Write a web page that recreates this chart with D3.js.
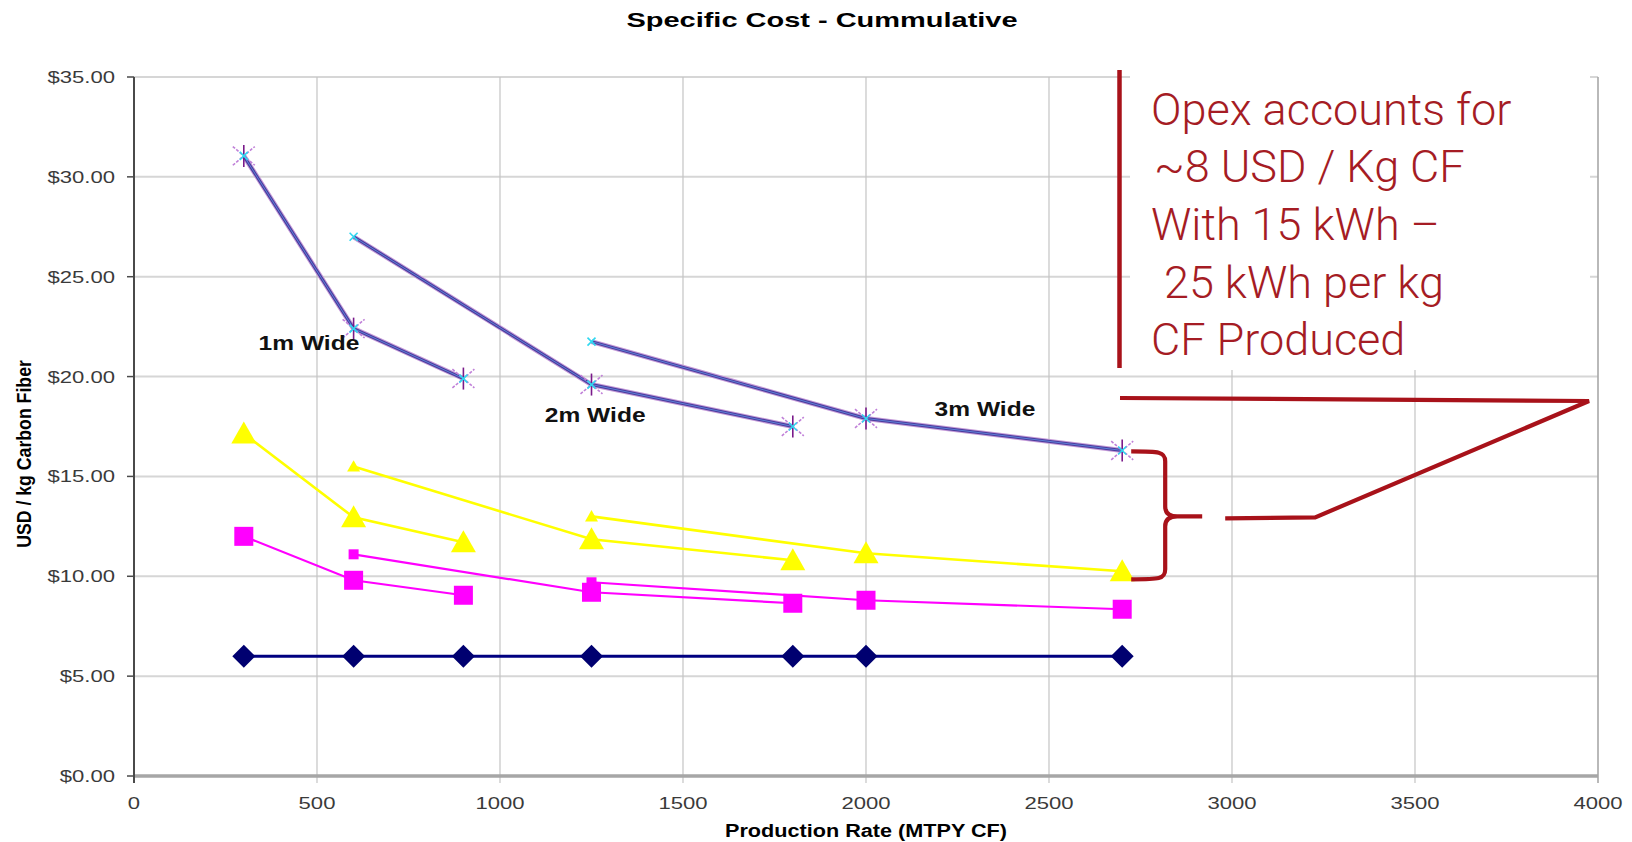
<!DOCTYPE html>
<html>
<head>
<meta charset="utf-8">
<script src="https://cdn.jsdelivr.net/npm/d3@7"></script>
<style>
  html, body { margin: 0; padding: 0; background: #ffffff; }
  svg { display: block; }
</style>
</head>
<body>
<svg id="chart" width="1632" height="842"></svg>
<script>
// Production rates (MTPY CF) for each line width
const rates1m = [300, 600, 900];
const rates2m = [600, 1250, 1800];
const rates3m = [1250, 2000, 2700];
const ratesAll = [300, 600, 900, 1250, 1800, 2000, 2700];

// Cumulative specific cost (USD / kg carbon fiber)
const totalCost1m = [31.05, 22.4, 19.9];
const totalCost2m = [27.0, 19.6, 17.5];
const totalCost3m = [21.75, 17.9, 16.3];

const midCost1m = [17.15, 12.95, 11.7];
const midCost2m = [15.5, 11.85, 10.8];
const midCost3m = [13.0, 11.15, 10.25];

const lowCost1m = [12.0, 9.8, 9.05];
const lowCost2m = [11.1, 9.2, 8.65];
const lowCost3m = [9.7, 8.8, 8.35];

const baseCost = [6.0, 6.0, 6.0, 6.0, 6.0, 6.0, 6.0];

// Axis ticks
const xTicks = [0, 500, 1000, 1500, 2000, 2500, 3000, 3500, 4000];
const yTicks = [0, 5, 10, 15, 20, 25, 30, 35];

// Width labels placed in data space
const widthLabels = ["1m Wide", "2m Wide", "3m Wide"];
const widthLabelRates = [478, 1260, 2325];
const widthLabelCosts = [21.35, 17.75, 18.05];

const noteLines = ["Opex accounts for", "~8 USD / Kg CF", "With 15 kWh \u2013", " 25 kWh per kg", "CF Produced"];

const svg = d3.select("#chart");
const x = d3.scaleLinear().domain([0, 4000]).range([134, 1598]);
const y = d3.scaleLinear().domain([0, 35]).range([776, 77]);

const toPts = (xs, ys) => xs.map((v, i) => [v, ys[i]]);
const line = d3.line().x(d => x(d[0])).y(d => y(d[1]));

// stretched text helper (chart fonts are rendered wide)
function stext(g, txt, px, py, opts) {
  const t = g.append("text")
    .attr("transform", `translate(${px},${py}) scale(${opts.sx || 1},1)` + (opts.rotate ? ` rotate(${opts.rotate})` : ""))
    .attr("text-anchor", opts.anchor || "start")
    .attr("font-family", opts.family || "Liberation Sans, Arial, sans-serif")
    .attr("font-size", opts.size)
    .attr("font-weight", opts.weight || "normal")
    .attr("fill", opts.fill || "#000")
    .text(txt);
  return t;
}

// ---- grid ----
const grid = svg.append("g");
grid.selectAll("line.h").data(yTicks.filter(v => v > 0)).join("line")
  .attr("x1", x(0)).attr("x2", x(4000))
  .attr("y1", d => y(d)).attr("y2", d => y(d))
  .attr("stroke", "#d6d6d6").attr("stroke-width", 2);
grid.selectAll("line.v").data(xTicks.filter(v => v > 0)).join("line")
  .attr("x1", d => x(d)).attr("x2", d => x(d))
  .attr("y1", y(35)).attr("y2", y(0) + 7)
  .attr("stroke", d => d === 4000 ? "#a8a8a8" : "#c4c4c4")
  .attr("stroke-width", d => d === 4000 ? 1.6 : 1.2);

// ---- axes ----
const axes = svg.append("g");
axes.append("line").attr("x1", x(0)).attr("x2", x(4000)).attr("y1", y(0)).attr("y2", y(0))
  .attr("stroke", "#a6a6a6").attr("stroke-width", 3.5);
axes.append("line").attr("x1", x(0)).attr("x2", x(0)).attr("y1", y(35)).attr("y2", y(0) + 7)
  .attr("stroke", "#4a4a4a").attr("stroke-width", 2);
axes.selectAll("line.yt").data(yTicks).join("line")
  .attr("x1", x(0) - 7).attr("x2", x(0)).attr("y1", d => y(d)).attr("y2", d => y(d))
  .attr("stroke", "#4a4a4a").attr("stroke-width", 1.5);

yTicks.forEach(v => stext(axes, "$" + v.toFixed(2), 115, y(v) + 6, { size: 17, sx: 1.3, anchor: "end", fill: "#3a3a3a" }));
xTicks.forEach(v => stext(axes, String(v), x(v), 809, { size: 17, sx: 1.3, anchor: "middle", fill: "#3a3a3a" }));

stext(svg, "Specific Cost - Cummulative", 822, 27, { size: 21, sx: 1.38, anchor: "middle", weight: "bold" });
stext(svg, "Production Rate (MTPY CF)", 866, 837, { size: 18.5, sx: 1.17, anchor: "middle", weight: "bold" });
stext(svg, "USD / kg Carbon Fiber", 31, 454, { size: 17.7, sx: 1.18, anchor: "middle", weight: "bold", rotate: -90 });

// ---- series ----
const plot = svg.append("g");

// base cost (navy, diamonds)
plot.append("path").attr("d", line(toPts(ratesAll, baseCost)))
  .attr("fill", "none").attr("stroke", "#000080").attr("stroke-width", 3);

// low cost (magenta, squares)
[[rates1m, lowCost1m], [rates2m, lowCost2m], [rates3m, lowCost3m]].forEach(([xs, ys]) => {
  plot.append("path").attr("d", line(toPts(xs, ys)))
    .attr("fill", "none").attr("stroke", "#ff00ff").attr("stroke-width", 2.2);
});
// mid cost (yellow, triangles)
[[rates1m, midCost1m], [rates2m, midCost2m], [rates3m, midCost3m]].forEach(([xs, ys]) => {
  plot.append("path").attr("d", line(toPts(xs, ys)))
    .attr("fill", "none").attr("stroke", "#ffff00").attr("stroke-width", 2.6);
});
// total cost (blue-violet)
[[rates1m, totalCost1m], [rates2m, totalCost2m], [rates3m, totalCost3m]].forEach(([xs, ys]) => {
  const d = line(toPts(xs, ys));
  plot.append("path").attr("d", d).attr("fill", "none").attr("stroke", "#c49ad8").attr("stroke-width", 5);
  plot.append("path").attr("d", d).attr("fill", "none").attr("stroke", "#4a3c9c").attr("stroke-width", 3);
  plot.append("path").attr("d", d).attr("fill", "none").attr("stroke", "#5f7fd8").attr("stroke-width", 1);
});

const mk = svg.append("g");
function diamond(cx, cy, r) {
  mk.append("path").attr("d", `M${cx},${cy - r}L${cx + r},${cy}L${cx},${cy + r}L${cx - r},${cy}Z`).attr("fill", "#000070");
}
function square(cx, cy, s) {
  mk.append("rect").attr("x", cx - s / 2).attr("y", cy - s / 2).attr("width", s).attr("height", s).attr("fill", "#ff00ff");
}
function triangle(cx, cy, w) {
  const h = w * 0.88;
  mk.append("path").attr("d", `M${cx},${cy - h * 0.55}L${cx + w / 2},${cy + h * 0.45}L${cx - w / 2},${cy + h * 0.45}Z`).attr("fill", "#ffff00");
}
function star(cx, cy, r) {
  mk.append("path").attr("d", `M${cx - r},${cy - r * 0.85}L${cx + r},${cy + r * 0.85}M${cx - r},${cy + r * 0.85}L${cx + r},${cy - r * 0.85}`)
    .attr("stroke", "#c080d8").attr("stroke-width", 1.6).attr("stroke-dasharray", "3,1.5");
  mk.append("path").attr("d", `M${cx},${cy - r}L${cx},${cy + r}`).attr("stroke", "#7a1a8a").attr("stroke-width", 1.6);
  smallX(cx, cy, 4);
}
function smallX(cx, cy, r) {
  mk.append("path").attr("d", `M${cx - r},${cy - r}L${cx + r},${cy + r}M${cx - r},${cy + r}L${cx + r},${cy - r}`)
    .attr("stroke", "#30d8f0").attr("stroke-width", 1.6);
}

ratesAll.forEach((r, i) => diamond(x(r), y(baseCost[i]), 11.5));

[[rates1m, lowCost1m, false], [rates2m, lowCost2m, true], [rates3m, lowCost3m, true]].forEach(([xs, ys, smallFirst]) => {
  xs.forEach((r, i) => square(x(r), y(ys[i]), smallFirst && i === 0 ? 10 : 19));
});
[[rates1m, midCost1m, false], [rates2m, midCost2m, true], [rates3m, midCost3m, true]].forEach(([xs, ys, smallFirst]) => {
  xs.forEach((r, i) => triangle(x(r), y(ys[i]), smallFirst && i === 0 ? 13 : 25));
});
[[rates1m, totalCost1m, false], [rates2m, totalCost2m, true], [rates3m, totalCost3m, true]].forEach(([xs, ys, smallFirst]) => {
  xs.forEach((r, i) => smallFirst && i === 0 ? smallX(x(r), y(ys[i]), 4) : star(x(r), y(ys[i]), 11));
});

// width labels
widthLabels.forEach((t, i) => stext(svg, t, x(widthLabelRates[i]), y(widthLabelCosts[i]), { size: 19.5, sx: 1.26, anchor: "middle", weight: "bold", fill: "#111" }));

// ---- opex note ----
const note = svg.append("g");
note.append("rect").attr("x", 1130).attr("y", 62).attr("width", 460).attr("height", 308).attr("fill", "#ffffff");
note.append("line").attr("x1", 1119.5).attr("x2", 1119.5).attr("y1", 70).attr("y2", 368)
  .attr("stroke", "#a8121a").attr("stroke-width", 4.5);
const noteX = [1151, 1154, 1151, 1153, 1151];
const noteY = [125, 182, 240, 298, 355];
noteLines.forEach((t, i) => {
  note.append("text").attr("x", noteX[i]).attr("y", noteY[i])
    .attr("font-family", "Roboto, 'Open Sans', sans-serif").attr("font-weight", 300)
    .attr("font-size", 45).attr("fill", "#a51c24").attr("xml:space", "preserve")
    .style("white-space", "pre").text(t);
});

// brace spanning the 2700 MTPY points, with callout to the note
const bx = x(2700);
const yTop = y(totalCost3m[2]) + 1;
const yBot = y(midCost3m[2]) + 8;
const yMid = (yTop + yBot) / 2 + 1;
const spine = bx + 43;
note.append("path")
  .attr("d", `M${bx + 9},${yTop} C${spine - 6},${yTop} ${spine},${yTop} ${spine},${yTop + 10}` +
             ` L${spine},${yMid - 10} Q${spine},${yMid} ${spine + 12},${yMid} L${spine + 37},${yMid}` +
             ` M${spine + 12},${yMid} Q${spine},${yMid} ${spine},${yMid + 10}` +
             ` L${spine},${yBot - 10} C${spine},${yBot} ${spine - 6},${yBot} ${bx + 9},${yBot}`)
  .attr("fill", "none").attr("stroke", "#a8121a").attr("stroke-width", 4.2);
note.append("path")
  .attr("d", `M${spine + 60},${yMid + 2} L${spine + 150},${yMid + 1} L1589,401 L1120,398`)
  .attr("fill", "none").attr("stroke", "#a8121a").attr("stroke-width", 4.2).attr("stroke-linejoin", "miter");
</script>
</body>
</html>
